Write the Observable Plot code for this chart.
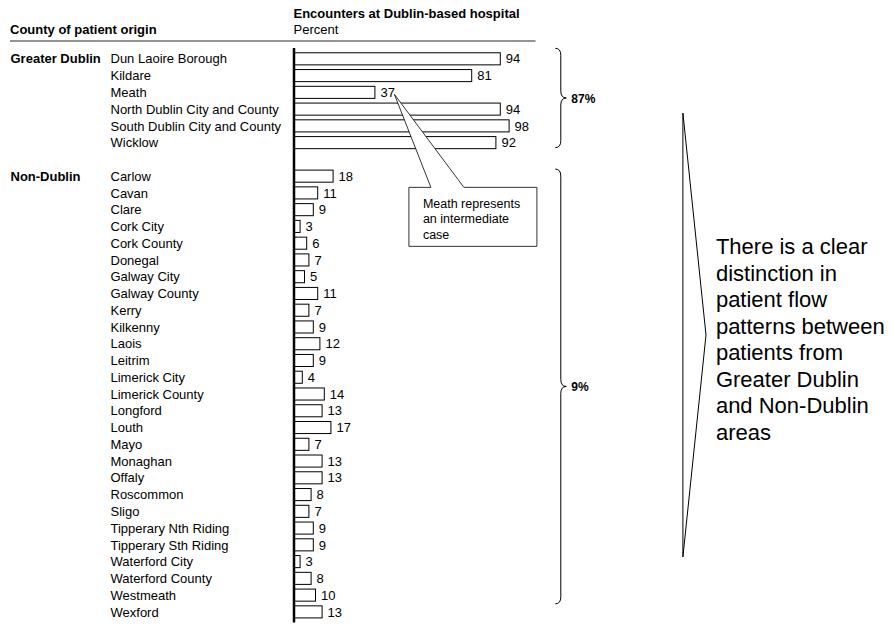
<!DOCTYPE html>
<html>
<head>
<meta charset="utf-8">
<script src="https://cdn.jsdelivr.net/npm/d3@7"></script>
<script src="https://cdn.jsdelivr.net/npm/@observablehq/plot@0.6"></script>
<style>
  html, body { margin: 0; padding: 0; background: #fff; }
  svg { display: block; }
</style>
</head>
<body>
<div id="chart"></div>
<script>
// ---------- data ----------
const dublinCounties = ["Dun Laoire Borough", "Kildare", "Meath", "North Dublin City and County", "South Dublin City and County", "Wicklow"];
const dublinValues = [94, 81, 37, 94, 98, 92];

const nonDublinCounties = ["Carlow", "Cavan", "Clare", "Cork City", "Cork County", "Donegal", "Galway City", "Galway County", "Kerry", "Kilkenny", "Laois", "Leitrim", "Limerick City", "Limerick County", "Longford", "Louth", "Mayo", "Monaghan", "Offaly", "Roscommon", "Sligo", "Tipperary Nth Riding", "Tipperary Sth Riding", "Waterford City", "Waterford County", "Westmeath", "Wexford"];
const nonDublinValues = [18, 11, 9, 3, 6, 7, 5, 11, 7, 9, 12, 9, 4, 14, 13, 17, 7, 13, 13, 8, 7, 9, 9, 3, 8, 10, 13];

const groupNames = ["Greater Dublin", "Non-Dublin"];
const groupShares = ["87%", "9%"];

const headerLeft = "County of patient origin";
const headerTitle = "Encounters at Dublin-based hospital";
const headerUnit = "Percent";

const calloutCounty = "Meath";
const calloutLines = ["Meath represents", "an intermediate", "case"];

const conclusionLines = ["There is a clear", "distinction in", "patient flow", "patterns between", "patients from", "Greater Dublin", "and Non-Dublin", "areas"];

// ---------- derived tables ----------
const GAP = "\u2063gap";
const rows = [
  ...dublinCounties.map((name, i) => ({name, value: dublinValues[i], group: groupNames[0]})),
  ...nonDublinCounties.map((name, i) => ({name, value: nonDublinValues[i], group: groupNames[1]}))
];
const yDomain = [...dublinCounties, GAP, ...nonDublinCounties];
const groupHeads = [
  {name: dublinCounties[0], label: groupNames[0]},
  {name: nonDublinCounties[0], label: groupNames[1]}
];

const FONT = "'Liberation Sans', Arial, Helvetica, sans-serif";

// ---------- annotation mark (header, braces, callout, conclusion) ----------
function annotations(index, scales, values, dimensions) {
  const x = scales.x, y = scales.y;
  const bw = y.bandwidth ? y.bandwidth() : 12;
  const g = d3.create("svg:g").attr("font-family", FONT).attr("text-anchor", "start");

  // header
  const x0 = x(0);
  g.append("text").attr("x", 10).attr("y", 34).attr("font-size", 13).attr("font-weight", "bold").text(headerLeft);
  g.append("text").attr("x", x0).attr("y", 17.5).attr("font-size", 13).attr("font-weight", "bold").text(headerTitle);
  g.append("text").attr("x", x0).attr("y", 34).attr("font-size", 13).text(headerUnit);
  g.append("line").attr("x1", 10).attr("x2", x(110)).attr("y1", 41).attr("y2", 41)
    .attr("stroke", "#707070").attr("stroke-width", 1.5);

  // braces
  const braceX = x(119), braceW = 11;
  function brace(top, bottom) {
    const xm = braceX + braceW / 2, ym = (top + bottom) / 2, r = 7;
    const p = d3.path();
    p.moveTo(braceX, top);
    p.quadraticCurveTo(xm, top, xm, top + r);
    p.lineTo(xm, ym - r);
    p.quadraticCurveTo(xm, ym, braceX + braceW, ym);
    p.quadraticCurveTo(xm, ym, xm, ym + r);
    p.lineTo(xm, bottom - r);
    p.quadraticCurveTo(xm, bottom, braceX, bottom);
    return {d: p.toString(), ym};
  }
  const spans = [
    [y(dublinCounties[0]) - 4.5, y(dublinCounties[dublinCounties.length - 1]) + bw - 1],
    [y(nonDublinCounties[0]) - 1, y(nonDublinCounties[nonDublinCounties.length - 1]) - 2]
  ];
  spans.forEach(([t, b], i) => {
    const br = brace(t, b);
    g.append("path").attr("d", br.d).attr("fill", "none").attr("stroke", "black").attr("stroke-width", 1);
    g.append("text").attr("x", braceX + braceW + 5).attr("y", br.ym + 5)
      .attr("font-size", 12).attr("font-weight", "bold").text(groupShares[i]);
  });

  // callout for Meath
  const m = rows.find(d => d.name === calloutCounty);
  const ax = x(m.value), ay = y(m.name) + bw / 2;
  const tipX = ax + 19.5, tipY = ay + 2;
  const bx0 = ax + 34, bx1 = ax + 162, by0 = ay + 95, by1 = ay + 154;
  const pa = ax + 56, pb = ax + 89;
  const cp = d3.path();
  cp.moveTo(pa, by0);
  cp.lineTo(tipX, tipY);
  cp.lineTo(pb, by0);
  cp.lineTo(bx1, by0);
  cp.lineTo(bx1, by1);
  cp.lineTo(bx0, by1);
  cp.lineTo(bx0, by0);
  cp.closePath();
  g.append("path").attr("d", cp.toString()).attr("fill", "white").attr("stroke", "black").attr("stroke-width", 0.8);
  calloutLines.forEach((t, i) => {
    g.append("text").attr("x", bx0 + 14).attr("y", by0 + 20.5 + i * 15.5).attr("font-size", 12.5).text(t);
  });

  // conclusion chevron + text
  const cx0 = x(177), cx1 = x(187.5);
  const ct = 113, cb = 557, cm = (ct + cb) / 2;
  const ch = d3.path();
  ch.moveTo(cx0, ct);
  ch.lineTo(cx1, cm);
  ch.lineTo(cx0, cb);
  ch.closePath();
  g.append("path").attr("d", ch.toString()).attr("fill", "none").attr("stroke", "black").attr("stroke-width", 1);
  const lh = 26.5, first = cm + 4 - lh * (conclusionLines.length - 1) / 2;
  conclusionLines.forEach((t, i) => {
    g.append("text").attr("x", x(192)).attr("y", first + i * lh + 7.8).attr("font-size", 22).text(t);
  });
  return g.node();
}

const chart = Plot.plot({
  width: 893,
  height: 625,
  marginTop: 48.1,
  marginBottom: 2.4,
  marginLeft: 0,
  marginRight: 0,
  style: {fontFamily: FONT, fontSize: "13px", color: "black", background: "white", overflow: "visible"},
  x: {domain: [0, 100], range: [293.5, 513.5], axis: null},
  y: {type: "band", domain: yDomain, paddingInner: 0.28, paddingOuter: 0.28, round: false, axis: null},
  marks: [
    Plot.barX(rows, {x: "value", y: "name", fill: "white", stroke: "black", strokeWidth: 1}),
    Plot.ruleX([0], {stroke: "black", strokeWidth: 2.5}),
    Plot.text(rows, {x: "value", y: "name", text: d => String(d.value), textAnchor: "start", dx: 5, fontSize: 13, fill: "black"}),
    Plot.text(rows, {y: "name", text: "name", frameAnchor: "left", textAnchor: "start", dx: 110, fontSize: 13, fill: "black"}),
    Plot.text(groupHeads, {y: "name", text: "label", frameAnchor: "left", textAnchor: "start", dx: 10, fontSize: 13, fontWeight: "bold", fill: "black"}),
    annotations
  ]
});
document.getElementById("chart").appendChild(chart);
</script>
</body>
</html>
